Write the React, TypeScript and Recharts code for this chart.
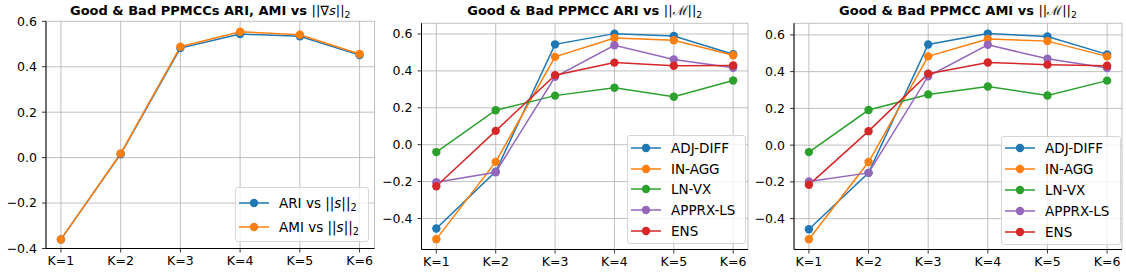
import React from 'react'
import { LineChart, Line, XAxis, YAxis, CartesianGrid } from 'recharts'

// x categories
const kLabels = ['K=1', 'K=2', 'K=3', 'K=4', 'K=5', 'K=6']

// panel 1: ARI / AMI vs ||grad s||
const gradAri = [-0.36, 0.015, 0.482, 0.544, 0.534, 0.451]
const gradAmi = [-0.36, 0.018, 0.488, 0.554, 0.541, 0.456]

// panel 2: ARI vs ||M||
const adjDiffAri = [-0.454, -0.146, 0.544, 0.602, 0.589, 0.49]
const inAggAri = [-0.512, -0.093, 0.476, 0.578, 0.566, 0.485]
const lnVxAri = [-0.04, 0.187, 0.266, 0.309, 0.26, 0.348]
const apprxLsAri = [-0.203, -0.149, 0.368, 0.539, 0.462, 0.417]
const ensAri = [-0.225, 0.075, 0.377, 0.445, 0.428, 0.429]

// panel 3: AMI vs ||M||
const adjDiffAmi = [-0.458, -0.151, 0.548, 0.607, 0.591, 0.494]
const inAggAmi = [-0.512, -0.092, 0.483, 0.578, 0.566, 0.483]
const lnVxAmi = [-0.038, 0.191, 0.276, 0.319, 0.27, 0.351]
const apprxLsAmi = [-0.198, -0.151, 0.375, 0.546, 0.47, 0.42]
const ensAmi = [-0.216, 0.076, 0.389, 0.45, 0.438, 0.432]

const yTicks = [-0.4, -0.2, 0, 0.2, 0.4, 0.6]
const xTicks = [1, 2, 3, 4, 5, 6]

const methodNames = ['ADJ-DIFF', 'IN-AGG', 'LN-VX', 'APPRX-LS', 'ENS']
const colors = ['#1f77b4', '#ff7f0e', '#2ca02c', '#9467bd', '#d62728']

const FONT = '"DejaVu Sans", sans-serif'

type Series = { key: string; color: string; values: number[] }

const toRows = (series: Series[]) =>
  kLabels.map((_, i) => {
    const row: Record<string, number> = { k: i + 1 }
    series.forEach((s) => (row[s.key] = s.values[i]))
    return row
  })

const fmtY = (v: number) => v.toFixed(1).replace('-', '\u2212')

const Norm = ({ inner }: { inner: React.ReactNode }) => (
  <span style={{ fontWeight: 'normal' }}>
    ||{inner}||
    <span style={{ fontSize: '0.72em', position: 'relative', top: '0.3em' }}>2</span>
  </span>
)

const S = () => <span style={{ fontStyle: 'italic' }}>s</span>

function LegendBox(props: {
  left: number
  top: number
  width: number
  height: number
  firstRow: number
  rowStep: number
  items: { label: React.ReactNode; color: string }[]
}) {
  const { left, top, width, height, firstRow, rowStep, items } = props
  return (
    <div
      style={{
        position: 'absolute',
        left,
        top,
        width,
        height,
        boxSizing: 'border-box',
        border: '1px solid #d6d6d6',
        borderRadius: 3,
        background: 'rgba(255,255,255,0.8)',
        fontFamily: FONT,
        fontSize: 13.5,
        color: '#000',
      }}
    >
      {items.map((it, i) => (
        <div
          key={i}
          style={{
            position: 'absolute',
            left: 3,
            top: firstRow + i * rowStep - 10,
            height: 20,
            display: 'flex',
            alignItems: 'center',
            whiteSpace: 'nowrap',
          }}
        >
          <svg width={30} height={12} style={{ marginRight: 10 }}>
            <line x1={0} x2={30} y1={6} y2={6} stroke={it.color} strokeWidth={1.5} />
            <circle cx={15} cy={6} r={4.2} fill={it.color} />
          </svg>
          <span>{it.label}</span>
        </div>
      ))}
    </div>
  )
}

function Panel(props: {
  left: number
  width: number
  plotLeft: number
  plotRight: number
  plotTop: number
  plotBottom: number
  domain: [number, number]
  series: Series[]
  title: React.ReactNode
}) {
  const { left, width, plotLeft, plotRight, plotTop, plotBottom, domain, series, title } = props
  const yw = 40
  const xh = 26
  const margin = {
    left: plotLeft - left - yw,
    right: left + width - plotRight,
    top: plotTop,
    bottom: 275 - plotBottom - xh,
  }
  const tickStyle = { fill: '#000', fontSize: 12.5, fontFamily: FONT }
  return (
    <div style={{ position: 'absolute', left, top: 0, width, height: 275 }}>
      <div
        style={{
          position: 'absolute',
          top: 1,
          left: (plotLeft + plotRight) / 2 - left - 200,
          width: 400,
          textAlign: 'center',
          fontFamily: FONT,
          fontWeight: 'bold',
          fontSize: 13,
          lineHeight: '20px',
          whiteSpace: 'nowrap',
        }}
      >
        {title}
      </div>
      <LineChart width={width} height={275} data={toRows(series)} margin={margin}>
        <CartesianGrid stroke="#b0b0b0" strokeWidth={0.8} />
        <XAxis
          dataKey="k"
          type="number"
          domain={[0.75, 6.25]}
          ticks={xTicks}
          interval={0}
          allowDataOverflow
          height={xh}
          tickFormatter={(v: number) => kLabels[v - 1]}
          tick={tickStyle}
          tickSize={4}
          tickMargin={4}
          stroke="#000"
          axisLine={{ stroke: '#000', strokeWidth: 1 }}
          tickLine={{ stroke: '#000', strokeWidth: 0.8 }}
        />
        <XAxis
          xAxisId="top"
          orientation="top"
          dataKey="k"
          type="number"
          domain={[0.75, 6.25]}
          height={0}
          tick={false}
          tickLine={false}
          axisLine={{ stroke: '#000', strokeWidth: 1 }}
        />
        <YAxis
          type="number"
          domain={domain}
          ticks={yTicks}
          interval={0}
          allowDataOverflow
          width={yw}
          tickFormatter={fmtY}
          tick={tickStyle}
          tickSize={4}
          tickMargin={5}
          axisLine={{ stroke: '#000', strokeWidth: 1 }}
          tickLine={{ stroke: '#000', strokeWidth: 0.8 }}
        />
        <YAxis
          yAxisId="right"
          orientation="right"
          type="number"
          domain={domain}
          width={0}
          tick={false}
          tickLine={false}
          axisLine={{ stroke: '#000', strokeWidth: 1 }}
        />
        {series.map((s) => (
          <Line
            key={s.key}
            dataKey={s.key}
            stroke={s.color}
            strokeWidth={1.5}
            dot={{ r: 4.2, fill: s.color, stroke: s.color, strokeWidth: 0 }}
            activeDot={false}
            isAnimationActive={false}
          />
        ))}
      </LineChart>
    </div>
  )
}

const methodSeries = (vals: number[][]): Series[] =>
  vals.map((v, i) => ({ key: methodNames[i], color: colors[i], values: v }))

export default function App() {
  const p1: Series[] = [
    { key: 'ari', color: colors[0], values: gradAri },
    { key: 'ami', color: colors[1], values: gradAmi },
  ]
  const p2 = methodSeries([adjDiffAri, inAggAri, lnVxAri, apprxLsAri, ensAri])
  const p3 = methodSeries([adjDiffAmi, inAggAmi, lnVxAmi, apprxLsAmi, ensAmi])
  const methodItems = methodNames.map((n, i) => ({ label: n, color: colors[i] }))
  const M = <span style={{ fontFamily: '"DejaVu Serif", serif', fontStyle: 'normal' }}>{'\u2133'}</span>

  return (
    <div
      style={{
        position: 'absolute',
        left: 0,
        top: 0,
        width: 1126,
        height: 275,
        background: '#fff',
        overflow: 'hidden',
      }}
    >
      <Panel
        left={0}
        width={378}
        plotLeft={46}
        plotRight={374.5}
        plotTop={21.3}
        plotBottom={248.5}
        domain={[-0.4, 0.6]}
        series={p1}
        title={
          <>
            Good &amp; Bad PPMCCs ARI, AMI vs <Norm inner={<>{'\u2207'}<S /></>} />
          </>
        }
      />
      <Panel
        left={380}
        width={370}
        plotLeft={421.5}
        plotRight={748}
        plotTop={23.3}
        plotBottom={249.5}
        domain={[-0.568, 0.658]}
        series={p2}
        title={
          <>
            Good &amp; Bad PPMCC ARI vs <Norm inner={M} />
          </>
        }
      />
      <Panel
        left={752}
        width={374}
        plotLeft={794}
        plotRight={1122}
        plotTop={23.3}
        plotBottom={249.5}
        domain={[-0.568, 0.663]}
        series={p3}
        title={
          <>
            Good &amp; Bad PPMCC AMI vs <Norm inner={M} />
          </>
        }
      />
      <LegendBox
        left={235}
        top={187}
        width={134}
        height={55}
        firstRow={15.3}
        rowStep={23.4}
        items={[
          { label: <>ARI vs <Norm inner={<S />} /></>, color: colors[0] },
          { label: <>AMI vs <Norm inner={<S />} /></>, color: colors[1] },
        ]}
      />
      <LegendBox
        left={627}
        top={135}
        width={119}
        height={109}
        firstRow={11.7}
        rowStep={20.8}
        items={methodItems}
      />
      <LegendBox
        left={1001}
        top={136}
        width={120}
        height={109}
        firstRow={11.2}
        rowStep={20.9}
        items={methodItems}
      />
    </div>
  )
}
